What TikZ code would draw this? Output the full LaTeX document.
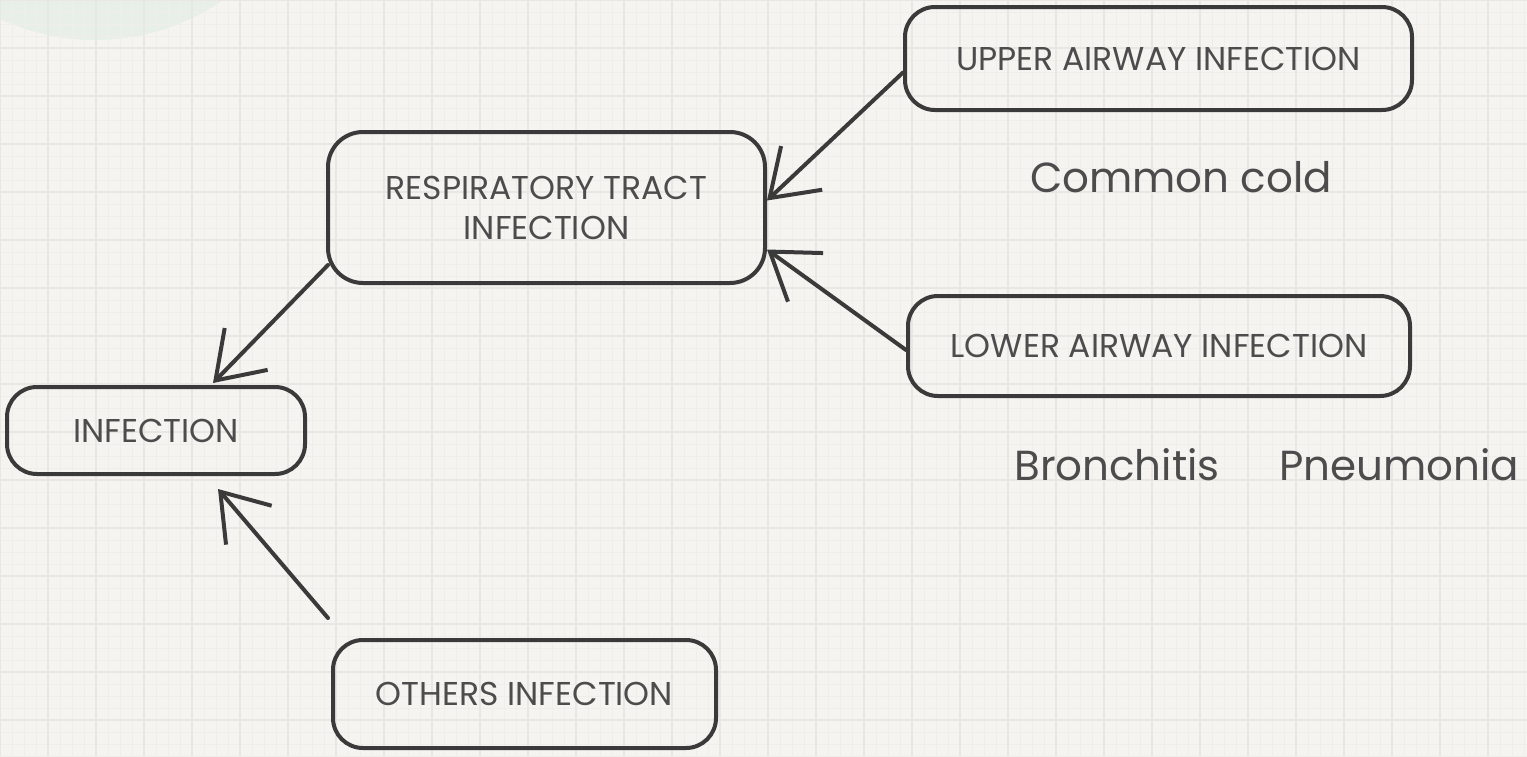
\documentclass[tikz,border=0pt]{standalone}
\usepackage{fontspec}
\setmainfont{Poppins}
\usetikzlibrary{arrows.meta}
\definecolor{bg}{HTML}{F5F4F1}
\definecolor{gridmin}{HTML}{EFEEEB}
\definecolor{gridmaj}{HTML}{E8E7E3}
\definecolor{lc}{HTML}{3A3A3A}
\definecolor{tc}{HTML}{4C4C4C}
\definecolor{blob}{HTML}{E8EFE9}
\tikzset{
  box/.style={draw=lc, line width=4pt, rounded corners=30pt, inner sep=0pt, align=center,
    text=tc, font=\fontsize{33}{40}\selectfont},
  plain/.style={text=tc, inner sep=0pt, font=\fontsize{42}{48}\selectfont},
  arr/.style={draw=lc, line width=4pt, line cap=round,
    -{Straight Barb[length=44pt,width=60pt,line width=4pt]}}
}
\begin{document}
\begin{tikzpicture}[x=1pt,y=-1pt]
\useasboundingbox (0,0) rectangle (1527,756);
\fill[bg] (0,0) rectangle (1527,756);
\begin{scope}
\clip (0,0) rectangle (1527,756);
\fill[blob] (95,-185) circle (225);
\foreach \i in {0,12,...,1527} \draw[gridmin, line width=0.6pt] (\i,0) -- (\i,756);
\foreach \j in {0,12,...,756} \draw[gridmin, line width=0.6pt] (0,\j) -- (1527,\j);
\foreach \i in {0,48,...,1527} \draw[gridmaj, line width=1.2pt] (\i,0) -- (\i,756);
\foreach \j in {0,48,...,756} \draw[gridmaj, line width=1.2pt] (0,\j) -- (1527,\j);
\end{scope}

\node[box, minimum width=437pt, minimum height=151pt, rounded corners=35pt] (resp) at (546.5,207.5) {RESPIRATORY TRACT\\INFECTION};
\node[box, minimum width=507pt, minimum height=103pt] (upper) at (1158.5,58.5) {UPPER AIRWAY INFECTION};
\node[box, minimum width=502pt, minimum height=100pt] (lower) at (1159,346) {LOWER AIRWAY INFECTION};
\node[box, minimum width=298pt, minimum height=87pt] (inf) at (156,430.5) {INFECTION};
\node[box, minimum width=383pt, minimum height=108pt] (oth) at (524.5,694) {OTHERS INFECTION};

\node[plain] (cold) at (1181,177) {Common cold};
\node[plain] (bron) at (1117,465) {Bronchitis};
\node[plain] (pneu) at (1399,465) {Pneumonia};

\draw[arr] ([yshift=-14pt]upper.west) -- ([yshift=7pt]resp.east);
\draw[arr] ([yshift=-4pt]lower.west) -- ([yshift=-42pt]resp.east);
\draw[arr] ([shift={(2pt,20pt)}]resp.south west) -- ([shift={(57pt,2pt)}]inf.north);
\draw[arr] ([shift={(-3pt,20pt)}]oth.north west) -- ([shift={(62pt,-13pt)}]inf.south);
\end{tikzpicture}
\end{document}
